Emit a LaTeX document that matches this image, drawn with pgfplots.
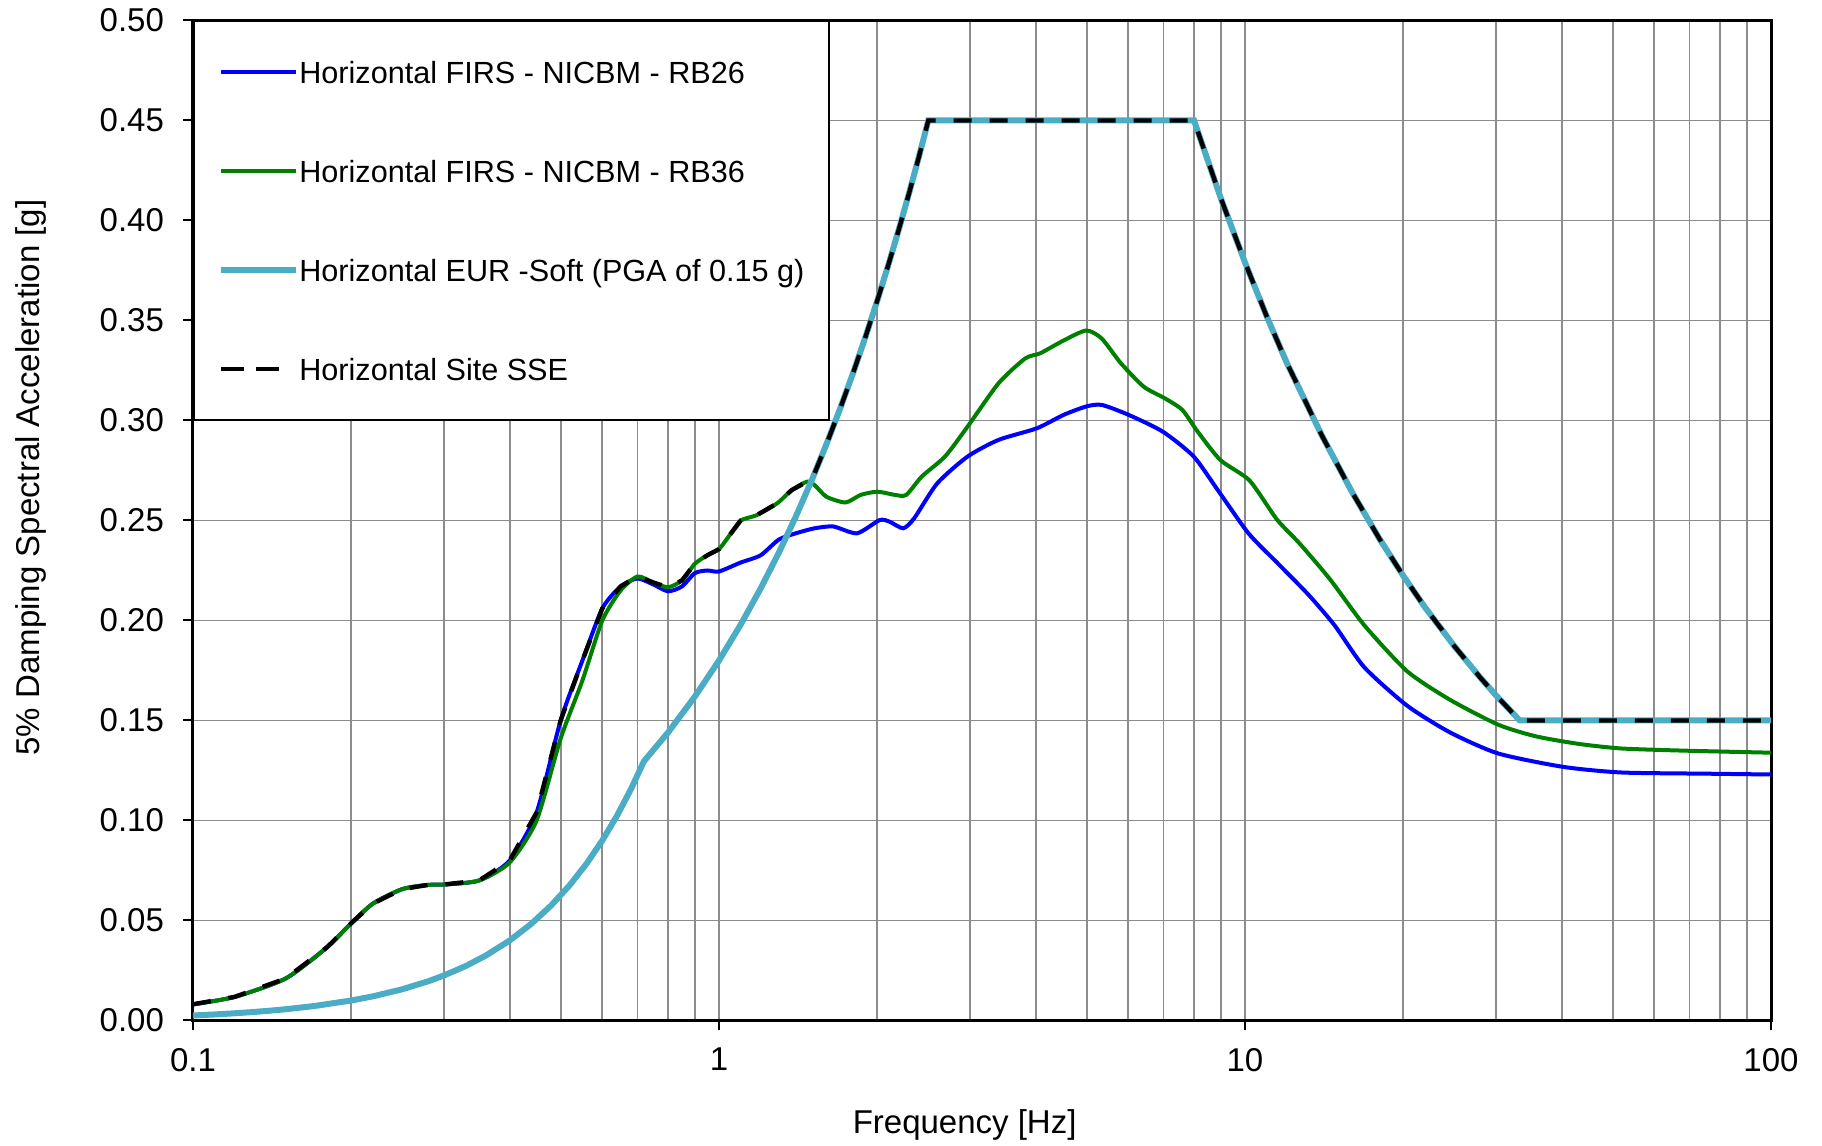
\documentclass[border=0pt]{standalone}
\usepackage{fontspec}
\setmainfont{Liberation Sans}
\usepackage{pgfplots}
\pgfplotsset{compat=1.18}
\definecolor{firsblue}{RGB}{0,0,255}
\definecolor{firsgreen}{RGB}{0,128,0}
\definecolor{eurcyan}{RGB}{75,172,198}
\definecolor{gridgray}{RGB}{140,140,140}
\begin{document}
\begin{tikzpicture}
\begin{semilogxaxis}[
  scale only axis,
  width=789pt, height=500pt,
  xmin=0.1, xmax=100, ymin=0, ymax=0.5,
  xtick={0.1,1,10,100}, xticklabels={0.1,1,10,100},
  minor xtick={0.2,0.3,0.4,0.5,0.6,0.7,0.8,0.9,2,3,4,5,6,7,8,9,20,30,40,50,60,70,80,90},
  ytick={0,0.05,0.1,0.15,0.2,0.25,0.3,0.35,0.4,0.45,0.5},
  yticklabel style={xshift=-6pt, /pgf/number format/.cd,fixed,fixed zerofill,precision=2},
  /pgf/number format/assume math mode=true,
  grid=both,
  major grid style={gridgray, line width=0.9pt},
  minor grid style={gridgray, line width=0.9pt},
  axis line style={black, line width=1.5pt},
  tick align=outside,
  xtick pos=left, ytick pos=left,
  major tick length=5pt,
  minor tick length=0pt,
  tick style={black, line width=1pt},
  tick label style={font=\fontsize{16.5}{19}\selectfont, text=black},
  xticklabel style={yshift=-5.2pt},
  label style={font=\fontsize{16.5}{20}\selectfont},
  xlabel={Frequency [Hz]},
  ylabel={5\% Damping Spectral Acceleration [g]},
  xlabel style={at={(axis description cs:0.489,0)}, anchor=center, yshift=-52pt},
  ylabel style={at={(axis description cs:-0.1025,0.543)}, anchor=center},
  legend style={at={(0,1)}, anchor=north west, draw=black, line width=1pt, fill=white,
    inner xsep=12.2pt, inner ysep=16.45pt, row sep=31.6pt, column sep=0pt,
    font=\fontsize{15.3}{18}\selectfont,
    nodes={inner sep=0pt, text height=14.4pt, text depth=3.5pt}},
  legend cell align=left,
  legend image code/.code={\draw[#1] (0pt,0pt) -- (37.5pt,0pt);},
]
% Horizontal FIRS - NICBM - RB26
\addplot[firsblue, line width=2pt, smooth, tension=0.4] coordinates {
(0.10,0.0081) (0.12,0.0118) (0.15,0.021) (0.18,0.0367) (0.20,0.0487) (0.22,0.0585)
(0.25,0.0657) (0.28,0.0678) (0.30,0.068) (0.35,0.070) (0.40,0.080) (0.45,0.104)
(0.50,0.150) (0.55,0.180) (0.60,0.206) (0.65,0.217) (0.70,0.221) (0.75,0.218)
(0.80,0.2146) (0.85,0.217) (0.90,0.2237) (0.95,0.225) (1.00,0.2245) (1.10,0.229)
(1.20,0.2326) (1.30,0.2405) (1.40,0.2436) (1.52,0.2461) (1.65,0.247) (1.83,0.2436)
(2.02,0.2502) (2.11,0.2494) (2.24,0.2461) (2.35,0.2511) (2.60,0.2686) (2.97,0.282)
(3.40,0.2903) (4.02,0.2961) (4.52,0.3028) (4.99,0.307) (5.34,0.3078) (6.01,0.3028)
(6.98,0.2944) (7.99,0.282) (8.91,0.2646) (10.16,0.2435) (11.58,0.2282) (13.2,0.2129)
(14.8,0.1976) (16.86,0.1766) (20.34,0.1574) (24.55,0.144) (30.3,0.1335) (40.3,0.1268)
(52,0.124) (75.7,0.1234) (100,0.123)
};
\addlegendentry{Horizontal FIRS - NICBM - RB26}
% Horizontal FIRS - NICBM - RB36
\addplot[firsgreen, line width=2pt, smooth, tension=0.4] coordinates {
(0.10,0.0081) (0.12,0.0118) (0.15,0.021) (0.18,0.0367) (0.20,0.0487) (0.22,0.0585)
(0.25,0.0657) (0.28,0.0678) (0.30,0.068) (0.35,0.070) (0.40,0.079) (0.45,0.100)
(0.50,0.141) (0.55,0.170) (0.60,0.200) (0.65,0.215) (0.70,0.222) (0.75,0.219)
(0.80,0.2166) (0.85,0.220) (0.90,0.2284) (0.95,0.2326) (1.00,0.2357) (1.05,0.243)
(1.10,0.250) (1.18,0.2527) (1.29,0.2586) (1.375,0.2652) (1.47,0.2694) (1.52,0.2677)
(1.60,0.2619) (1.74,0.259) (1.86,0.2628) (2.00,0.2644) (2.16,0.2628) (2.27,0.2628)
(2.43,0.272) (2.69,0.282) (2.97,0.297) (3.40,0.3186) (3.82,0.331) (4.08,0.3336)
(4.52,0.340) (4.99,0.345) (5.34,0.341) (5.81,0.3286) (6.42,0.3169) (7.04,0.3111)
(7.60,0.3053) (8.13,0.2944) (8.98,0.2802) (10.2,0.270) (11.5,0.2505) (12.7,0.2385)
(14.51,0.2206) (16.86,0.1976) (20.34,0.1746) (24.55,0.1603) (30.3,0.1479) (35.7,0.1421)
(43.1,0.1383) (52,0.136) (68.9,0.1349) (100,0.1339)
};
\addlegendentry{Horizontal FIRS - NICBM - RB36}
% Horizontal EUR - Soft
\addplot[eurcyan, line width=3pt] coordinates {
(0.10,0.0025) (0.11,0.003025) (0.12,0.0036) (0.13,0.004225) (0.14,0.0049) (0.15,0.005625)
(0.17,0.007225) (0.20,0.01) (0.22,0.0121) (0.25,0.015625) (0.28,0.0196) (0.30,0.0225)
(0.33,0.027225) (0.36,0.0324) (0.40,0.04) (0.44,0.0484) (0.48,0.0576) (0.52,0.0676)
(0.56,0.0784) (0.60,0.09) (0.64,0.1024) (0.68,0.1156) (0.72,0.1296)
(0.8,0.144) (0.9,0.162) (1.0,0.18) (1.1,0.198) (1.2,0.216) (1.3,0.234) (1.4,0.252)
(1.5,0.27) (1.6,0.288) (1.7,0.306) (1.8,0.324) (1.9,0.342) (2.0,0.36) (2.1,0.378)
(2.2,0.396) (2.3,0.414) (2.4,0.432) (2.5,0.45) (8,0.45)
(9,0.411) (10,0.379) (11,0.352) (12,0.329) (14,0.2925) (16,0.2639) (18,0.241)
(20,0.2223) (22,0.2065) (25,0.1872) (28,0.1715) (30,0.1626) (33.3,0.15) (100,0.15)
};
\addlegendentry{Horizontal EUR -Soft (PGA of 0.15 g)}
% Horizontal Site SSE
\addplot[black, line width=2.2pt, dash pattern=on 9pt off 9pt, forget plot] coordinates {
(0.10,0.0081) (0.12,0.0118) (0.15,0.021) (0.18,0.0367) (0.20,0.0487) (0.22,0.0585)
(0.25,0.0657) (0.28,0.0678) (0.30,0.068) (0.35,0.070) (0.40,0.080) (0.45,0.104)
(0.50,0.150) (0.55,0.180) (0.60,0.206) (0.65,0.217) (0.70,0.222) (0.75,0.219)
(0.80,0.2166) (0.85,0.220) (0.90,0.2284) (0.95,0.2326) (1.00,0.2357) (1.05,0.243)
(1.10,0.250) (1.18,0.2527) (1.29,0.2586) (1.375,0.2652) (1.47,0.2694) (1.5,0.27)
(1.6,0.288) (1.7,0.306) (1.8,0.324) (1.9,0.342) (2.0,0.36) (2.1,0.378)
(2.2,0.396) (2.3,0.414) (2.4,0.432) (2.5,0.45) (8,0.45)
(9,0.411) (10,0.379) (11,0.352) (12,0.329) (14,0.2925) (16,0.2639) (18,0.241)
(20,0.2223) (22,0.2065) (25,0.1872) (28,0.1715) (30,0.1626) (33.3,0.15) (100,0.15)
};
\addlegendimage{black, line width=2.2pt, dash pattern=on 11.5pt off 6pt on 11.5pt off 30pt}
\addlegendentry{Horizontal Site SSE}
\end{semilogxaxis}
\pgfresetboundingbox
\path[use as bounding box] ([shift={(-96.5pt,-62.75pt)}]current axis.south west) rectangle ([shift={(25.5pt,10.25pt)}]current axis.north east);
\end{tikzpicture}
\end{document}
